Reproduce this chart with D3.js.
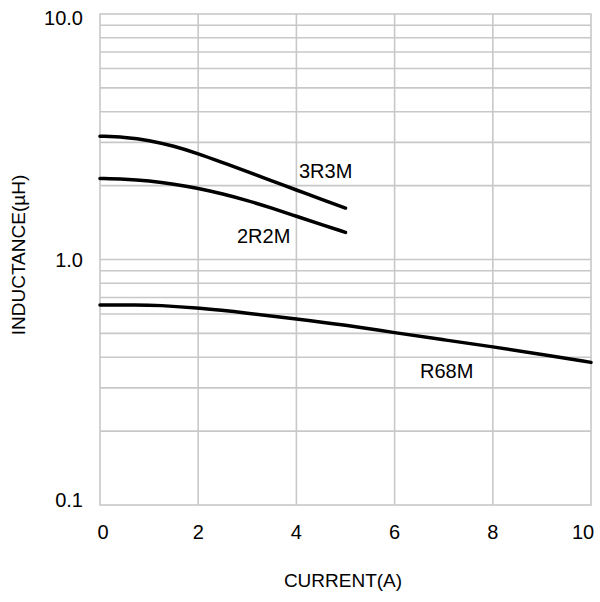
<!DOCTYPE html>
<html><head><meta charset="utf-8">
<script src="https://cdn.jsdelivr.net/npm/d3@7/dist/d3.min.js"></script>
<style>body{margin:0;background:#fff}svg{display:block}text{font-family:"Liberation Sans",Arial,sans-serif;fill:#000}</style>
</head><body><svg id="c" width="600" height="602"></svg>
<script>
const xTicks=[0,2,4,6,8,10];
const yTicks=[0.1,1,10];
const yTickLabels=["0.1","1.0","10.0"];
const s3R3M_x=[0,0.5,1,1.5,2,2.5,3,3.5,4,4.5,5];
const s3R3M_y=[3.18,3.15,3.06,2.90,2.70,2.48,2.28,2.09,1.92,1.76,1.62];
const s2R2M_x=[0,0.5,1,1.5,2,2.5,3,3.5,4,4.5,5];
const s2R2M_y=[2.14,2.13,2.09,2.03,1.95,1.85,1.74,1.62,1.50,1.39,1.29];
const sR68M_x=[0,0.75,1.2,2,3,4,5,6,7,8,9,10];
const sR68M_y=[0.652,0.654,0.651,0.635,0.605,0.573,0.541,0.503,0.471,0.441,0.411,0.381];
const seriesNames=["3R3M","2R2M","R68M"];

const L=100,R=591,T=14,B=505;
const svg=d3.select("#c");
const x=d3.scaleLinear().domain([0,10]).range([L,R]);
const y=d3.scaleLog().domain([0.1,10]).range([B,T]);
const grid=svg.append("g").attr("stroke","#c8c8c8").attr("stroke-width",1.6).attr("fill","none");
const minor=[];
[0.1,1].forEach(d=>{for(let k=2;k<=9;k++)minor.push(d*k);});
minor.concat([1]).forEach(v=>grid.append("line").attr("x1",L).attr("x2",R).attr("y1",y(v)).attr("y2",y(v)));
[2,4,6,8].forEach(v=>grid.append("line").attr("x1",x(v)).attr("x2",x(v)).attr("y1",T).attr("y2",B));
grid.append("rect").attr("x",L).attr("y",T).attr("width",R-L).attr("height",B-T);

yTicks.forEach((v,i)=>{
  const yy=Math.max(T+4,Math.min(B-5,y(v)));
  svg.append("text").attr("x",83).attr("y",yy).attr("text-anchor","end").attr("dominant-baseline","central").attr("font-size",20).text(yTickLabels[i]);
});
xTicks.forEach(v=>{
  const xx=Math.max(L+3,Math.min(R-8,x(v)));
  svg.append("text").attr("x",xx).attr("y",532).attr("text-anchor","middle").attr("dominant-baseline","central").attr("font-size",20).text(v);
});
svg.append("text").attr("x",343).attr("y",580).attr("text-anchor","middle").attr("dominant-baseline","central").attr("font-size",19).text("CURRENT(A)");
svg.append("text").attr("transform","translate(18,255) rotate(-90)").attr("text-anchor","middle").attr("dominant-baseline","central").attr("font-size",19).text("INDUCTANCE(µH)");

const line=d3.line().x(d=>x(d[0])).y(d=>y(d[1])).curve(d3.curveBasis);
[[s3R3M_x,s3R3M_y],[s2R2M_x,s2R2M_y],[sR68M_x,sR68M_y]].forEach(([xs,ys])=>{
  svg.append("path").attr("d",line(xs.map((v,i)=>[v,ys[i]]))).attr("fill","none").attr("stroke","#000").attr("stroke-width",3.5).attr("stroke-linecap","round");
});
const labelPos=[[299,178],[237,243],[420,378]];
seriesNames.forEach((n,i)=>svg.append("text").attr("x",labelPos[i][0]).attr("y",labelPos[i][1]).attr("font-size",20).text(n));
</script></body></html>
